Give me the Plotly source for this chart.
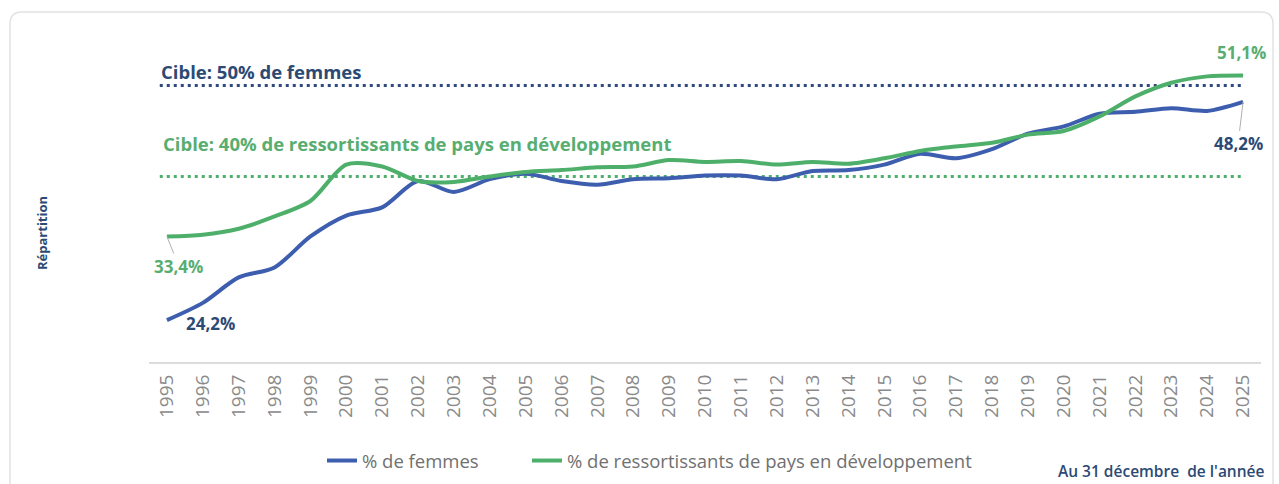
import plotly.graph_objects as go

years = [str(y) for y in range(1995, 2026)]
femmes = [24.2, 26.1, 28.9, 30.0, 33.4, 35.7, 36.6, 39.5, 38.3, 39.7,
          40.3, 39.5, 39.1, 39.7, 39.8, 40.1, 40.1, 39.7, 40.6, 40.7,
          41.3, 42.5, 42.0, 43.0, 44.7, 45.5, 46.9, 47.1, 47.5, 47.2, 48.2]
pays_dev = [33.4, 33.6, 34.25, 35.6, 37.3, 41.3, 41.1, 39.5, 39.4, 40.0,
            40.5, 40.7, 41.0, 41.1, 41.8, 41.6, 41.7, 41.3, 41.6, 41.4,
            42.0, 42.8, 43.3, 43.7, 44.6, 45.0, 46.6, 48.8, 50.3, 51.0, 51.1]
cible_femmes = 50
cible_pays = 40

BLUE = "#3D5EAE"
GREEN = "#4DAF6A"
BLUE_TXT = "#2C4A74"
GREEN_TXT = "#58AD70"
FONT = "Open Sans"

# plot area in pixels: x 149..1261, y 40..362
L, R, T, B = 149, 1261, 40, 362
W, H = R - L, B - T
def px(x):
    return (x - L) / W
def py(y):
    return (B - y) / H

first, last = 0, len(years) - 1

fig = go.Figure()
fig.add_trace(go.Scatter(x=years, y=femmes, mode="lines", name="% de femmes",
                         legend="legend",
                         line=dict(color=BLUE, width=4, shape="spline", smoothing=0.8)))
fig.add_trace(go.Scatter(x=years, y=pays_dev, mode="lines",
                         name="% de ressortissants de pays en développement",
                         legend="legend2",
                         line=dict(color=GREEN, width=4, shape="spline", smoothing=0.8)))

# target dotted lines
fig.add_shape(type="line", xref="x", yref="y", x0=first - 0.2, x1=last, y0=cible_femmes, y1=cible_femmes,
              line=dict(color="#2E4A80", width=3, dash="3px,4px"), layer="below")
fig.add_shape(type="line", xref="x", yref="y", x0=first - 0.2, x1=last, y0=cible_pays, y1=cible_pays,
              line=dict(color=GREEN, width=3, dash="3px,4px"), layer="below")

# card border
x0, x1 = px(10), px(1273)
yt, yb = py(12), py(495)
rx, ry = 12 / W, 12 / H
path = (f"M {x0},{yb} L {x0},{yt-ry} Q {x0},{yt} {x0+rx},{yt} "
        f"L {x1-rx},{yt} Q {x1},{yt} {x1},{yt-ry} L {x1},{yb}")
fig.add_shape(type="path", xref="paper", yref="paper", path=path,
              line=dict(color="#E2E2E2", width=1.5), layer="below")

ann = []
ann.append(dict(xref="paper", yref="y", x=px(159), y=cible_femmes, yshift=14,
                xanchor="left", yanchor="middle", showarrow=False,
                text="<b>Cible: 50% de femmes</b>",
                font=dict(family=FONT, size=18.5, color=BLUE_TXT)))
ann.append(dict(xref="paper", yref="y", x=px(161), y=cible_pays, yshift=33,
                xanchor="left", yanchor="middle", showarrow=False,
                text="<b>Cible: 40% de ressortissants de pays en développement</b>",
                font=dict(family=FONT, size=18.5, color=GREEN_TXT)))
# value labels
ann.append(dict(x=first, y=pays_dev[0], xref="x", yref="y", text="<b>33,4%</b>",
                showarrow=True, arrowhead=0, arrowwidth=1, arrowcolor="#B0B0B0",
                ax=12, ay=30, font=dict(family=FONT, size=17, color=GREEN_TXT)))
ann.append(dict(x=first, y=femmes[0], xref="x", yref="y", text="<b>24,2%</b>",
                showarrow=False, xshift=44, yshift=-3,
                font=dict(family=FONT, size=17, color=BLUE_TXT)))
ann.append(dict(x=last, y=pays_dev[-1], xref="x", yref="y", text="<b>51,1%</b>",
                showarrow=False, xshift=-2, yshift=23,
                font=dict(family=FONT, size=17, color=GREEN_TXT)))
ann.append(dict(x=last, y=femmes[-1], xref="x", yref="y", text="<b>48,2%</b>",
                showarrow=True, arrowhead=0, arrowwidth=1, arrowcolor="#B0B0B0",
                ax=-5, ay=42, font=dict(family=FONT, size=17, color=BLUE_TXT)))
# axis title & note
ann.append(dict(xref="paper", yref="paper", x=px(42), y=py(233), xanchor="center",
                yanchor="middle", text="<b>Répartition</b>",
                textangle=-90, showarrow=False,
                font=dict(family=FONT, size=13, color=BLUE_TXT)))
ann.append(dict(xref="paper", yref="paper", x=px(1266), y=py(471), xanchor="right",
                yanchor="middle", text="Au 31 décembre  de l'année", showarrow=False,
                font=dict(family=FONT, size=15.5, color=BLUE_TXT, weight=600)))

leg_common = dict(orientation="h", xanchor="left", yanchor="middle", y=py(461),
                  font=dict(family=FONT, size=18.5, color="#707070"),
                  itemwidth=30, bgcolor="rgba(0,0,0,0)")

fig.update_layout(
    width=1279, height=484,
    margin=dict(l=L, r=1279 - R, t=T, b=484 - B, autoexpand=False),
    paper_bgcolor="white", plot_bgcolor="white",
    annotations=ann,
    showlegend=True,
    legend=dict(x=px(322), **leg_common),
    legend2=dict(x=px(527), **leg_common),
    font=dict(family=FONT),
)
fig.update_xaxes(type="category", range=[-0.5, 30.5], showgrid=False, showline=True,
                 linecolor="#DCDCDC", linewidth=2, ticks="", tickangle=-90,
                 ticklabelstandoff=3,
                 tickfont=dict(family=FONT, size=19, color="#8A8A8A"), zeroline=False)
fig.update_yaxes(range=[19.6, 55], showgrid=False, showticklabels=False, zeroline=False,
                 showline=False)

fig.write_html("out.html")
